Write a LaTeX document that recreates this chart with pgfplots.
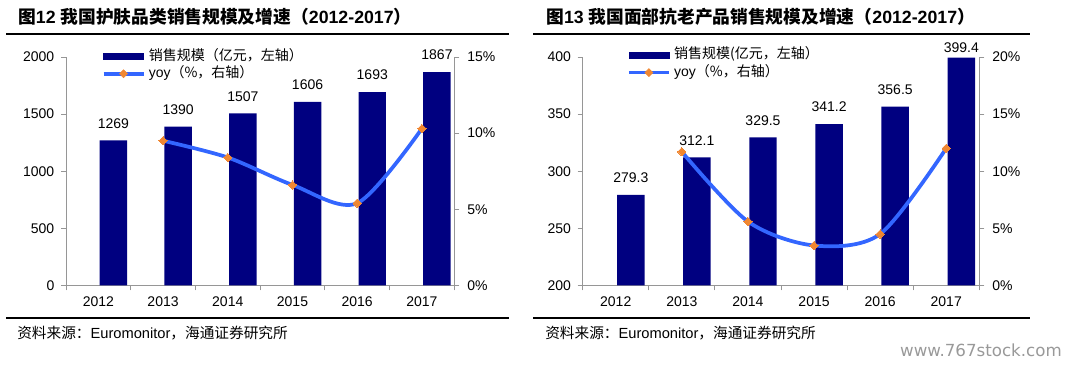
\documentclass[border=0pt]{standalone}
\usepackage{pgfplots}
\usepackage{pgfplotstable}
\pgfplotsset{compat=1.18}
\usepackage{fontspec}
\setmainfont{Liberation Sans}
\newfontfamily\cjk{Noto Sans CJK SC}
\newfontfamily\wmfont{DejaVu Sans}
\definecolor{barblue}{RGB}{0,0,128}
\definecolor{lineblue}{RGB}{51,102,255}
\definecolor{mkorange}{RGB}{240,135,50}
\definecolor{axgray}{RGB}{150,150,150}

\pgfplotstableread{
x val ys
0 1269 12.75
1 1390 12.75
2 1507 12.75
3 1606 12.75
4 1693 12.75
5 1867 12.75
}\skinval
\pgfplotstableread{
x yoy
1 9.5
2 8.4
3 6.6
4 5.4
5 10.3
}\skinyoy
\pgfplotstableread{
x val ys
0 279.3 12.75
1 312.1 12.75
2 329.5 12.75
3 341.2 12.75
4 356.5 12.75
5 399.4 7.5
}\antival
\pgfplotstableread{
x yoy
1 11.7
2 5.6
3 3.5
4 4.5
5 12.0
}\antiyoy

\pgfplotsset{
  panel/.style={
    scale only axis, height=171.4pt, xmin=-0.5, xmax=5.5, clip=false,
    axis line style={draw=axgray, line width=0.6pt},
    tick style={draw=axgray, line width=0.6pt},
    tick align=outside, major tick length=3.75pt,
    ticklabel style={font=\fontsize{10.5}{12}\selectfont},
    /pgf/number format/assume math mode=true,
    /pgf/number format/1000 sep={},
  },
  barax/.style={panel, axis y line*=left, axis x line*=bottom,
    xtick={-0.5,0.5,1.5,2.5,3.5,4.5,5.5},
    xticklabels={2012,2013,2014,2015,2016,2017,{}},
    yticklabel style={xshift=-1.5pt},
    ybar, bar width=20.6pt,
    nodes near coords,
    visualization depends on={\thisrow{ys} \as \labshift},
    nodes near coords style={font=\fontsize{10.5}{12}\selectfont, anchor=center, inner sep=0pt, yshift=\labshift pt},
    legend cell align=left,
    legend style={draw=none, fill=none, inner sep=0pt, outer sep=0pt, anchor=north west,
      font=\fontsize{10.5}{12}\selectfont, row sep=2.5pt,
      nodes={inner sep=0pt, text height=7.8pt, text depth=2.6pt},
      /tikz/every odd column/.append style={column sep=2.5pt}},
  },
  lineax/.style={panel, axis y line*=right, axis x line=none,
    yticklabel={\pgfmathprintnumber{\tick}\%},
    yticklabel style={xshift=2.5pt},
  },
  lineplot/.style={lineblue, line width=2.8pt, smooth, tension=0.5,
    mark=square*, mark size=2.2pt,
    mark options={fill=mkorange, draw=mkorange, line width=0pt, rotate=45}},
}

\begin{document}
\begin{tikzpicture}
\path (0pt,0pt) rectangle (800.25pt,-273pt);

% ---------- Left panel ----------
\node[anchor=west, inner sep=0pt, font=\fontsize{13.3}{15}\selectfont\bfseries] at (13.5pt,-12.75pt)
  {{\cjk 图}12 {\cjk 我国护肤品类销售规模及增速（}2012-2017{\cjk ）}};
\draw[line width=1.1pt] (4.5pt,-25.5pt) -- (381.75pt,-25.5pt);
\draw[line width=1.1pt] (4.5pt,-238.5pt) -- (381.75pt,-238.5pt);
\node[anchor=west, inner sep=0pt, font=\fontsize{11}{13}\selectfont] at (12.75pt,-249.75pt)
  {{\cjk 资料来源：}Euromonitor{\cjk ，海通证券研究所}};

\begin{axis}[barax, at={(49.5pt,-214.1pt)}, anchor=south west, width=291.2pt,
  ymin=0, ymax=2000, ytick={0,500,1000,1500,2000},
  xticklabel style={xshift=24.27pt, yshift=-1.5pt},
  legend style={at={(axis description cs:0.092,1.032)}}]
\addplot[fill=barblue, draw=none, forget plot] table[x=x,y=val] {\skinval};
\addlegendimage{legend image code/.code={\fill[barblue] (0pt,-2.25pt) rectangle (30pt,2.25pt);}}
\addlegendentry{{\cjk 销售规模（亿元，左轴）}}
\addlegendimage{legend image code/.code={\draw[lineblue,line width=2.8pt] (0pt,0pt) -- (30pt,0pt);
   \fill[mkorange] (15pt,-3pt) -- (18pt,0pt) -- (15pt,3pt) -- (12pt,0pt) -- cycle;}}
\addlegendentry{yoy{\cjk （\%，右轴）}}
\end{axis}
\begin{axis}[lineax, at={(49.5pt,-214.1pt)}, anchor=south west, width=291.2pt,
  ymin=0, ymax=15, ytick={0,5,10,15}]
\addplot[lineplot] table[x=x,y=yoy] {\skinyoy};
\end{axis}

% ---------- Right panel ----------
\node[anchor=west, inner sep=0pt, font=\fontsize{13.3}{15}\selectfont\bfseries] at (409.5pt,-12.75pt)
  {{\cjk 图}13 {\cjk 我国面部抗老产品销售规模及增速（}2012-2017{\cjk ）}};
\draw[line width=1.1pt] (399.75pt,-25.5pt) -- (772.5pt,-25.5pt);
\draw[line width=1.1pt] (399.75pt,-238.5pt) -- (772.5pt,-238.5pt);
\node[anchor=west, inner sep=0pt, font=\fontsize{11}{13}\selectfont] at (408.75pt,-249.75pt)
  {{\cjk 资料来源：}Euromonitor{\cjk ，海通证券研究所}};
\node[anchor=east, inner sep=0pt, font=\wmfont\fontsize{12.5}{14}\selectfont, text=black!40] at (796.5pt,-262.5pt)
  {www.767stock.com};

\begin{axis}[barax, at={(437pt,-214.1pt)}, anchor=south west, width=297.45pt,
  ymin=200, ymax=400, ytick={200,250,300,350,400},
  xticklabel style={xshift=24.8pt, yshift=-1.5pt},
  nodes near coords={\pgfmathprintnumber[fixed,fixed zerofill,precision=1]{\pgfplotspointmeta}},
  legend style={at={(axis description cs:0.112,1.037)}}]
\addplot[fill=barblue, draw=none, forget plot] table[x=x,y=val] {\antival};
\addlegendimage{legend image code/.code={\fill[barblue] (0pt,-2.25pt) rectangle (30pt,2.25pt);}}
\addlegendentry{{\cjk 销售规模(亿元，左轴）}}
\addlegendimage{legend image code/.code={\draw[lineblue,line width=2.8pt] (0pt,0pt) -- (30pt,0pt);
   \fill[mkorange] (15pt,-3pt) -- (18pt,0pt) -- (15pt,3pt) -- (12pt,0pt) -- cycle;}}
\addlegendentry{yoy{\cjk （\%，右轴）}}
\end{axis}
\begin{axis}[lineax, at={(437pt,-214.1pt)}, anchor=south west, width=297.45pt,
  ymin=0, ymax=20, ytick={0,5,10,15,20}]
\addplot[lineplot] table[x=x,y=yoy] {\antiyoy};
\end{axis}
\end{tikzpicture}
\end{document}
